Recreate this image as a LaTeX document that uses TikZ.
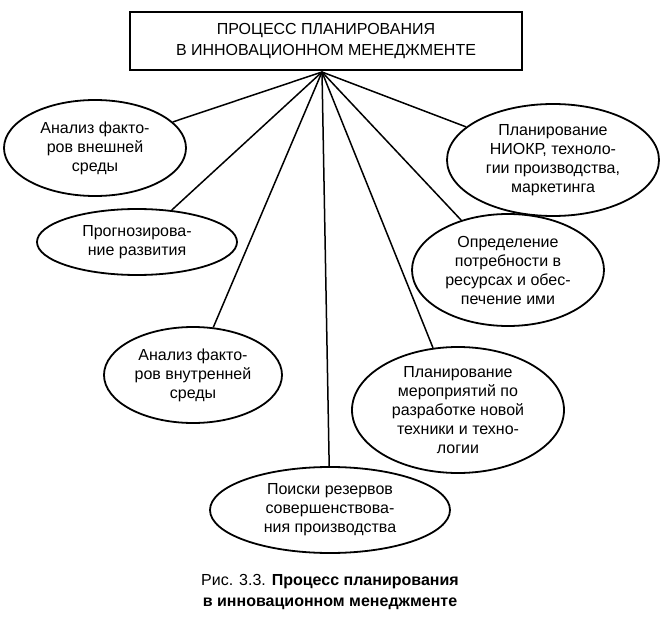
\documentclass[tikz,border=0pt]{standalone}
\usepackage{fontspec}
\setmainfont{Liberation Sans}
\usetikzlibrary{shapes.geometric}

\tikzset{
  topic/.style={ellipse, draw, line width=1.8pt, fill=white, align=center, inner sep=0pt,
    font=\fontsize{16}{19}\selectfont},
  spoke/.style={line width=1.5pt}
}

\begin{document}
\begin{tikzpicture}[x=1pt, y=-1pt]
  \useasboundingbox (0,0) rectangle (664,628);
  \node[draw, line width=2pt, minimum width=392pt, minimum height=58pt, align=center,
    font=\fontsize{16}{21}\selectfont] (P) at (326,41)
    {ПРОЦЕСС ПЛАНИРОВАНИЯ\\В ИННОВАЦИОННОМ МЕНЕДЖМЕНТЕ};
  \coordinate (hub) at (322,72);

  % ellipses
  \node[topic, minimum width=182pt, minimum height=96pt] (E1) at (95,148)
    {Анализ факто-\\ров внешней\\среды};
  \node[topic, minimum width=200pt, minimum height=66pt] (E2) at (137,242)
    {Прогнозирова-\\ние развития};
  \node[topic, minimum width=178pt, minimum height=96pt] (E3) at (193,375)
    {Анализ факто-\\ров внутренней\\среды};
  \node[topic, minimum width=240pt, minimum height=86pt] (E4) at (330,510)
    {Поиски резервов\\совершенствова-\\ния производства};
  \node[topic, minimum width=212pt, minimum height=126pt] (E5) at (458,410)
    {Планирование\\мероприятий по\\разработке новой\\техники и техно-\\логии};
  \node[topic, minimum width=192pt, minimum height=112pt] (E6) at (508,270)
    {Определение\\потребности в\\ресурсах и обес-\\печение ими};
  \node[topic, minimum width=212pt, minimum height=112pt] (E7) at (553,160)
    {Планирование\\НИОКР, техноло-\\гии производства,\\маркетинга};

  % spokes
  \foreach \e in {E1,E2,E3,E4,E5,E6,E7}
    \draw[spoke] (hub) -- (\e);

  % caption
  \node[align=center, font=\fontsize{16}{21}\selectfont] (cap) at (330,592)
    {Рис. 3.3. \textbf{Процесс планирования}\\\textbf{в инновационном менеджменте}};
\end{tikzpicture}
\end{document}
